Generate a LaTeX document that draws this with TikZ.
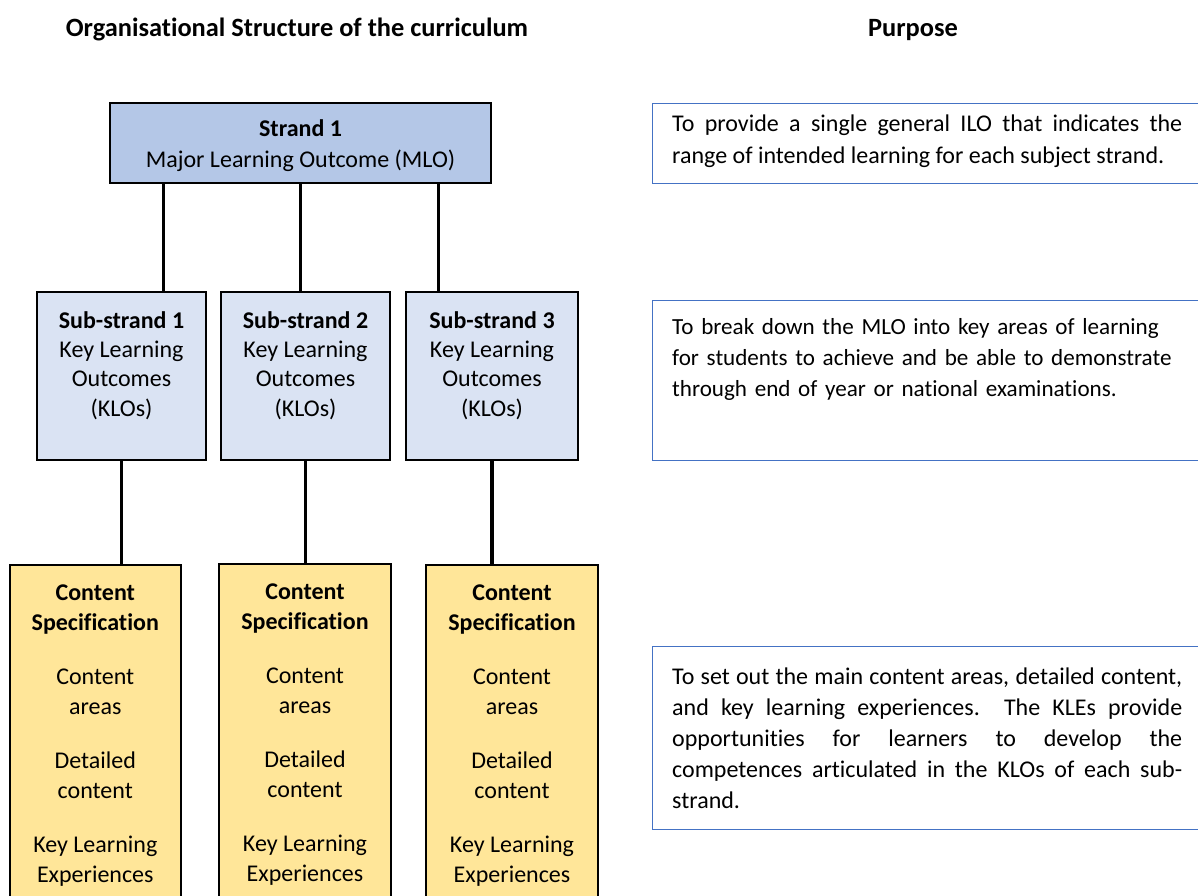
\documentclass[tikz,border=0pt]{standalone}
\usepackage{fontspec}
\setmainfont{Carlito}[Ligatures={NoCommon}]
\definecolor{strandblue}{HTML}{B4C7E7}
\definecolor{subblue}{HTML}{DAE3F3}
\definecolor{contentyellow}{HTML}{FFE699}
\definecolor{purposeblue}{HTML}{4472C4}
\begin{document}
\begin{tikzpicture}[x=1pt,y=-1pt,
  box/.style={draw=black, line width=1.8pt, inner sep=0pt},
  strandbox/.style={box, fill=strandblue, minimum width=381pt, minimum height=80pt},
  subbox/.style={box, fill=subblue, minimum height=168pt},
  contentbox/.style={box, fill=contentyellow, minimum height=370pt, anchor=north},
  purposebox/.style={draw=purposeblue, line width=1.4pt, minimum width=570pt, anchor=north west, inner sep=0pt},
  boxtext/.style={font=\fontsize{24}{29.3}\selectfont, align=center, inner sep=0pt},
  strandtext/.style={font=\fontsize{24}{31}\selectfont, align=center, inner sep=0pt},
  contenttext/.style={font=\fontsize{24}{30}\selectfont, align=center, inner sep=0pt},
  purposetext/.style={font=\fontsize{24}{31}\selectfont, inner sep=0pt, text width=510pt, anchor=north west},
  heading/.style={font=\fontsize{26.4}{31}\selectfont\bfseries, inner sep=0pt},
  link/.style={line width=3.2pt}
]
\useasboundingbox (0,0) rectangle (1198,895);
\clip (0,0) rectangle (1198,895);

% headings
\node[heading] (h1) at (297,29) {Organisational Structure of the curriculum};
\node[heading] (h2) at (913,30) {Purpose};

% strand
\node[strandbox] (strand) at (300.5,143) {};
\node[strandtext] (strandt) at (300.5,146) {\textbf{Strand 1}\\Major Learning Outcome (MLO)};

% sub-strands
\node[subbox, minimum width=169pt] (sub1) at (121.5,376) {};
\node[subbox, minimum width=169pt] (sub2) at (305.5,376) {};
\node[subbox, minimum width=172pt] (sub3) at (492,376) {};
\node[boxtext] (sub1t) at (121.5,365.5) {\textbf{Sub-strand 1}\\Key Learning\\Outcomes\\(KLOs)};
\node[boxtext] (sub2t) at (305.5,365.5) {\textbf{Sub-strand 2}\\Key Learning\\Outcomes\\(KLOs)};
\node[boxtext] (sub3t) at (492,365.5) {\textbf{Sub-strand 3}\\Key Learning\\Outcomes\\(KLOs)};

% content boxes
\node[contentbox, minimum width=171pt] (c1) at (95.3,564) {};
\node[contentbox, minimum width=172pt] (c2) at (305,563) {};
\node[contentbox, minimum width=172pt] (c3) at (512,564) {};
\node[contenttext] (c1t) at (95.3,736) {\textbf{Content}\\\textbf{Specification}\\[24pt]Content\\areas\\[24pt]Detailed\\content\\[24pt]Key Learning\\Experiences};
\node[contenttext] (c2t) at (305,735) {\textbf{Content}\\\textbf{Specification}\\[24pt]Content\\areas\\[24pt]Detailed\\content\\[24pt]Key Learning\\Experiences};
\node[contenttext] (c3t) at (512,736) {\textbf{Content}\\\textbf{Specification}\\[24pt]Content\\areas\\[24pt]Detailed\\content\\[24pt]Key Learning\\Experiences};

% connectors
\draw[link] ([xshift=54pt]strand.south west) -- ([xshift=54pt]strand.south west |- sub1.north);
\draw[link] ([xshift=191pt]strand.south west) -- ([xshift=191pt]strand.south west |- sub2.north);
\draw[link] ([xshift=329pt]strand.south west) -- ([xshift=329pt]strand.south west |- sub3.north);
\draw[link] (sub1.south) -- (sub1.south |- c1.north);
\draw[link] (sub2.south) -- (sub2.south |- c2.north);
\draw[link] (sub3.south) -- (sub3.south |- c3.north);

% purpose boxes
\node[purposebox, minimum height=80pt] (pA) at (652,103) {};
\node[purposebox, minimum height=160pt] (pB) at (652,300) {};
\node[purposebox, minimum height=183pt] (pC) at (652,646) {};
\node[purposetext, font=\fontsize{24}{32}\selectfont, align=justify, anchor=west] (pAt) at ([xshift=20pt,yshift=2pt]pA.west) {To provide a single general ILO that indicates the\linebreak range of intended learning for each subject strand.};
\node[purposetext, font=\fontsize{23.1}{31}\selectfont, text width=540pt, align=left] (pBt) at ([xshift=20pt,yshift=-18pt]pB.north west) {To break down the MLO into key areas of learning\\for students to achieve and be able to demonstrate\\through end of year or national examinations.};
\node[purposetext, align=justify, anchor=west] (pCt) at ([xshift=20pt]pC.west) {To set out the main content areas, detailed content,\linebreak and key learning experiences.\ \ The KLEs provide\linebreak opportunities for learners to develop the\linebreak competences articulated in the KLOs of each sub-\linebreak strand.};
\end{tikzpicture}
\end{document}
